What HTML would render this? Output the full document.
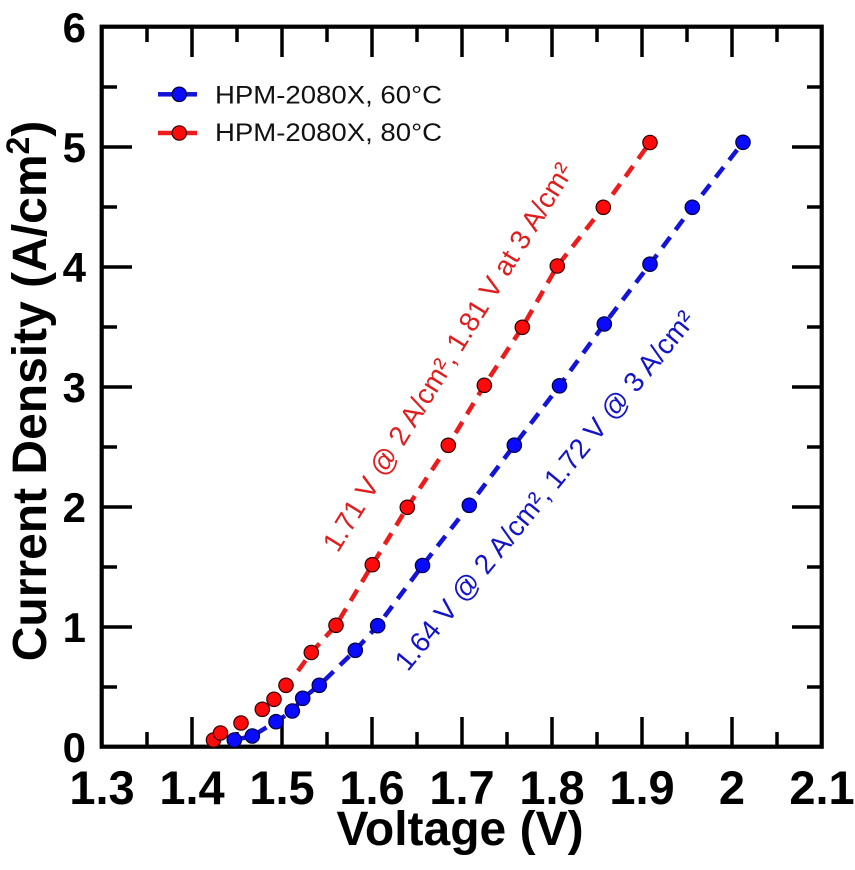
<!DOCTYPE html>
<html><head><meta charset="utf-8"><style>
html,body{margin:0;padding:0;background:#fff;}
svg{display:block;}
text{font-family:"Liberation Sans",Arial,sans-serif;}
</style></head><body>
<svg width="855" height="870" viewBox="0 0 855 870" xmlns="http://www.w3.org/2000/svg">
<rect width="855" height="870" fill="#fff"/>
<!-- ticks -->
<g stroke="#000" stroke-width="3.5" fill="none">
<path d="M192,747V717M282,747V717M372,747V717M462,747V717M552,747V717M642,747V717M732,747V717
M147,747V732M237,747V732M327,747V732M417,747V732M507,747V732M597,747V732M687,747V732M777,747V732
M192,27V57M282,27V57M372,27V57M462,27V57M552,27V57M642,27V57M732,27V57
M147,27V42M237,27V42M327,27V42M417,27V42M507,27V42M597,27V42M687,27V42M777,27V42
M102,627H132M102,507H132M102,387H132M102,267H132M102,147H132
M102,687H117M102,567H117M102,447H117M102,327H117M102,207H117M102,87H117
M822,627H792M822,507H792M822,387H792M822,267H792M822,147H792
M822,687H807M822,567H807M822,447H807M822,327H807M822,207H807M822,87H807"/>
</g>
<rect x="101.7" y="26.7" width="720" height="720" fill="none" stroke="#000" stroke-width="4.2"/>
<!-- y tick labels -->
<g font-size="42" font-weight="bold" text-anchor="end" fill="#000">
<text x="86" y="762">0</text>
<text x="86" y="642">1</text>
<text x="86" y="522">2</text>
<text x="86" y="402">3</text>
<text x="86" y="282">4</text>
<text x="86" y="162">5</text>
<text x="86" y="42">6</text>
</g>
<!-- x tick labels -->
<g font-size="47" font-weight="bold" text-anchor="middle" fill="#000">
<text x="102" y="804">1.3</text>
<text x="192" y="804">1.4</text>
<text x="282" y="804">1.5</text>
<text x="372" y="804">1.6</text>
<text x="462" y="804">1.7</text>
<text x="552" y="804">1.8</text>
<text x="642" y="804">1.9</text>
<text x="732" y="804">2</text>
<text x="822" y="804">2.1</text>
</g>
<!-- axis titles -->
<text x="460" y="845" font-size="48" font-weight="bold" text-anchor="middle">Voltage (V)</text>
<text transform="translate(46,391) rotate(-90)" font-size="48" font-weight="bold" text-anchor="middle">Current Density (A/cm<tspan font-size="32" dy="-17">2</tspan><tspan dy="17">)</tspan></text>
<!-- series lines -->
<polyline fill="none" stroke="#1414d8" stroke-width="4.5" stroke-dasharray="13,9" points="234.3,740 252.3,736 276,721.7 292.3,711 302.7,698.3 319.3,685.3 355.3,650.3 377.7,625.7 422.5,565.5 469.3,505.3 514.3,445.2 559.5,385.8 604.3,324 650,264.2 692.3,207.3 743,142.3"/>
<polyline fill="none" stroke="#ec1c1c" stroke-width="4.5" stroke-dasharray="13,9" points="298,671 311.3,652.5 336,625.3 372.3,564.7 407.3,507.3 448.3,445.3 484.3,385.3 522.3,327.3 557.3,266 603.3,207.3 650,142.5"/>
<!-- markers -->
<g fill="#ff0a0a" stroke="#300" stroke-width="1.2">
<circle cx="213.5" cy="740" r="7.2"/><circle cx="220.5" cy="733" r="7.2"/><circle cx="241" cy="723" r="7.2"/><circle cx="262.3" cy="709.3" r="7.2"/><circle cx="274" cy="699.3" r="7.2"/><circle cx="286" cy="685.3" r="7.2"/><circle cx="311.3" cy="652.5" r="7.2"/><circle cx="336" cy="625.3" r="7.2"/><circle cx="372.3" cy="564.7" r="7.2"/><circle cx="407.3" cy="507.3" r="7.2"/><circle cx="448.3" cy="445.3" r="7.2"/><circle cx="484.3" cy="385.3" r="7.2"/><circle cx="522.3" cy="327.3" r="7.2"/><circle cx="557.3" cy="266" r="7.2"/><circle cx="603.3" cy="207.3" r="7.2"/><circle cx="650" cy="142.5" r="7.2"/>
</g>
<g fill="#0a0aff" stroke="#000040" stroke-width="1.2">
<circle cx="234.3" cy="740" r="7.2"/><circle cx="252.3" cy="736" r="7.2"/><circle cx="276" cy="721.7" r="7.2"/><circle cx="292.3" cy="711" r="7.2"/><circle cx="302.7" cy="698.3" r="7.2"/><circle cx="319.3" cy="685.3" r="7.2"/><circle cx="355.3" cy="650.3" r="7.2"/><circle cx="377.7" cy="625.7" r="7.2"/><circle cx="422.5" cy="565.5" r="7.2"/><circle cx="469.3" cy="505.3" r="7.2"/><circle cx="514.3" cy="445.2" r="7.2"/><circle cx="559.5" cy="385.8" r="7.2"/><circle cx="604.3" cy="324" r="7.2"/><circle cx="650" cy="264.2" r="7.2"/><circle cx="692.3" cy="207.3" r="7.2"/><circle cx="743" cy="142.3" r="7.2"/>
</g>
<!-- legend -->
<g stroke-width="4.5">
<line x1="158" y1="94.3" x2="172" y2="94.3" stroke="#1414d8"/>
<line x1="187" y1="94.3" x2="197" y2="94.3" stroke="#1414d8"/>
<line x1="158" y1="133" x2="172" y2="133" stroke="#ec1c1c"/>
<line x1="187" y1="133" x2="197" y2="133" stroke="#ec1c1c"/>
</g>
<circle cx="179.3" cy="94.3" r="7.2" fill="#0a0aff" stroke="#000040" stroke-width="1.2"/>
<circle cx="179.3" cy="133" r="7.2" fill="#ff0a0a" stroke="#300" stroke-width="1.2"/>
<text x="215" y="103.3" font-size="25" textLength="227" lengthAdjust="spacingAndGlyphs" fill="#111">HPM-2080X, 60°C</text>
<text x="215" y="141" font-size="25" textLength="227" lengthAdjust="spacingAndGlyphs" fill="#111">HPM-2080X, 80°C</text>
<!-- annotations -->
<text transform="translate(337.7,553.6) rotate(-58.3)" font-size="28" fill="#e01e1e">1.71 V @ 2 A/cm², 1.81 V at 3 A/cm²</text>
<text transform="translate(407.7,672.4) rotate(-50.6)" font-size="28" fill="#1414c8">1.64 V @ 2 A/cm², 1.72 V @ 3 A/cm²</text>
</svg>
</body></html>
